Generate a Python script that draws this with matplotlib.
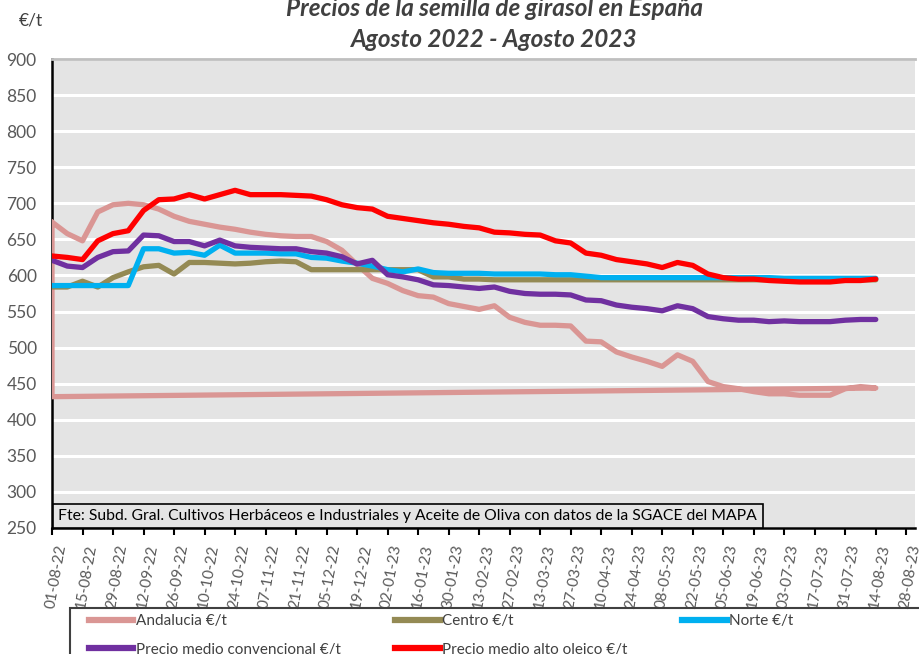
import numpy as np
import matplotlib
matplotlib.use("Agg")
import matplotlib.pyplot as plt
import matplotlib.dates as mdates
import matplotlib.transforms as mtransforms
from matplotlib.patches import Rectangle
from matplotlib.lines import Line2D

plt.rcParams['font.family'] = ['Lato', 'DejaVu Sans']

# ---------------- data ----------------
start = np.datetime64('2022-08-01')
dates = start + np.arange(55) * np.timedelta64(7, 'D')

andalucia = [674, 658, 648, 688, 698, 700, 698, 692, 682, 675, 671, 667, 664, 660, 657,
             655, 654, 654, 647, 635, 615, 596, 589, 579, 572, 570, 561, 557, 553, 558,
             542, 535, 531, 531, 530, 509, 508, 494, 487, 481, 474, 490, 481, 453, 446,
             443, 439, 436, 436, 434, 434, 434, 443, 446, 444]
andalucia_extra = [432, 674]   # trailing points plotted back at the first date

centro = [584, 584, 592, 584, 597, 605, 612, 614, 602, 618, 618, 617, 616, 617, 619,
          620, 619, 608, 608, 608, 608, 608, 608, 608, 608, 598, 598, 595, 595, 594,
          594, 594, 594, 594, 594, 594, 594, 594, 594, 594, 594, 594, 594, 594, 594,
          594, 594, 594, 594, 594, 594, 594, 594, 594, 594]

norte = [586, 586, 586, 586, 586, 586, 637, 637, 631, 632, 628, 642, 631, 631, 631,
         630, 630, 625, 624, 620, 617, 613, 608, 605, 609, 604, 603, 603, 603, 602,
         602, 602, 602, 601, 601, 599, 597, 597, 597, 597, 597, 597, 597, 597, 597,
         597, 597, 597, 596, 596, 596, 596, 596, 596, 596]

convencional = [621, 613, 611, 625, 633, 634, 656, 655, 647, 647, 641, 649, 641, 639, 638,
                637, 637, 633, 631, 626, 616, 621, 601, 598, 594, 587, 586, 584, 582, 584,
                578, 575, 574, 574, 573, 566, 565, 559, 556, 554, 551, 558, 554, 543, 540,
                538, 538, 536, 537, 536, 536, 536, 538, 539, 539]

alto_oleico = [627, 625, 622, 648, 658, 662, 690, 705, 706, 712, 706, 712, 718, 712, 712,
               712, 711, 710, 705, 698, 694, 692, 682, 679, 676, 673, 671, 668, 666, 660,
               659, 657, 656, 648, 645, 631, 628, 622, 619, 616, 611, 618, 614, 602, 597,
               595, 595, 593, 592, 591, 591, 591, 593, 593, 595]

labels = ['Andalucia €/t', 'Centro €/t', 'Norte €/t',
          'Precio medio convencional €/t', 'Precio medio alto oleico €/t']
colors = ['#DA9694', '#948A54', '#00B0F0', '#7030A0', '#FF0000']

tick_dates = np.arange(np.datetime64('2022-08-01'), np.datetime64('2023-08-29'),
                       np.timedelta64(14, 'D'))
yticks = list(range(250, 901, 50))

title = 'Precios de la semilla de girasol en España\nAgosto 2022 - Agosto 2023'
source = ('Fte: Subd. Gral. Cultivos Herbáceos e Industriales y Aceite de Oliva '
          'con datos de la SGACE del MAPA')

# ---------------- figure ----------------
W, H = 919, 654
fig = plt.figure(figsize=(W / 100, H / 100), dpi=100)
ax = fig.add_axes([52 / W, 1 - 528 / H, (915 - 52) / W, (528 - 59) / H])
ax.set_facecolor('#E4E4E4')

lw = 3.8
and_x = np.concatenate([dates, [dates[0], dates[0]]])
and_y = andalucia + andalucia_extra
ax.plot(and_x, and_y, color=colors[0], lw=lw, solid_joinstyle='round', solid_capstyle='round', zorder=3)
ax.plot(dates, centro, color=colors[1], lw=lw, solid_capstyle='round', zorder=4)
ax.plot(dates, norte, color=colors[2], lw=lw, solid_capstyle='round', zorder=5)
ax.plot(dates, convencional, color=colors[3], lw=lw, solid_capstyle='round', zorder=6)
ax.plot(dates, alto_oleico, color=colors[4], lw=lw, solid_capstyle='round', zorder=7)

ax.set_ylim(250, 900)
ax.set_yticks(yticks)
ax.set_xlim(np.datetime64('2022-08-01'), np.datetime64('2023-09-01'))
ax.set_xticks(tick_dates)
ax.xaxis.set_major_formatter(mdates.DateFormatter('%d-%m-%y'))

ax.grid(axis='y', color='white', lw=2.2)
ax.set_axisbelow(True)
ax.tick_params(axis='y', length=0, pad=11, labelsize=12.5, labelcolor='#595959')
ax.tick_params(axis='x', direction='out', length=5, width=1.5, color='black',
               labelsize=11, labelcolor='#595959', pad=6)
shift = mtransforms.ScaledTranslation(4 / 100, 0, fig.dpi_scale_trans)
for lab in ax.get_xticklabels():
    lab.set_rotation(80)
    lab.set_ha('center')
    lab.set_transform(lab.get_transform() + shift)

for s in ['left', 'bottom']:
    ax.spines[s].set_color('black')
    ax.spines[s].set_linewidth(1.8)
ax.spines['top'].set_color('#BFBFBF')
ax.spines['top'].set_linewidth(2)
ax.spines['right'].set_visible(False)

# source box
ax.text(6.5 / 863, 5 / 469, source, transform=ax.transAxes, fontsize=11.3, color='black',
        ha='left', va='bottom', zorder=10,
        bbox=dict(boxstyle='square,pad=0.35', facecolor='#E4E4E4', edgecolor='black', lw=1.2))

# title and unit
fig.text(494 / W, 1 - 24 / H, title, ha='center', va='center', fontsize=17.5,
         fontweight='bold', fontstyle='italic', color='#404040', linespacing=1.4)
fig.text(31 / W, 1 - 20 / H, '€/t', ha='center', va='center', fontsize=12.5, color='#404040')

# legend
handles = [Line2D([], [], color=c, lw=4.5) for c in colors]
order = [0, 3, 1, 4, 2]
fig.legend([handles[i] for i in order], [labels[i] for i in order],
           loc='upper left', bbox_to_anchor=(89 / W, 1 - 614 / H), ncol=3,
           frameon=False, fontsize=11, handlelength=2.9, handletextpad=0.15,
           columnspacing=3.6, labelspacing=0.95, borderpad=0, borderaxespad=0,
           labelcolor='#404040')
fig.patches.append(Rectangle((70 / W, -0.05), 1.0, (654 - 608) / H + 0.05,
                             transform=fig.transFigure, fill=False,
                             edgecolor='#404040', lw=1.5))

fig.savefig('out.png', dpi=100)
